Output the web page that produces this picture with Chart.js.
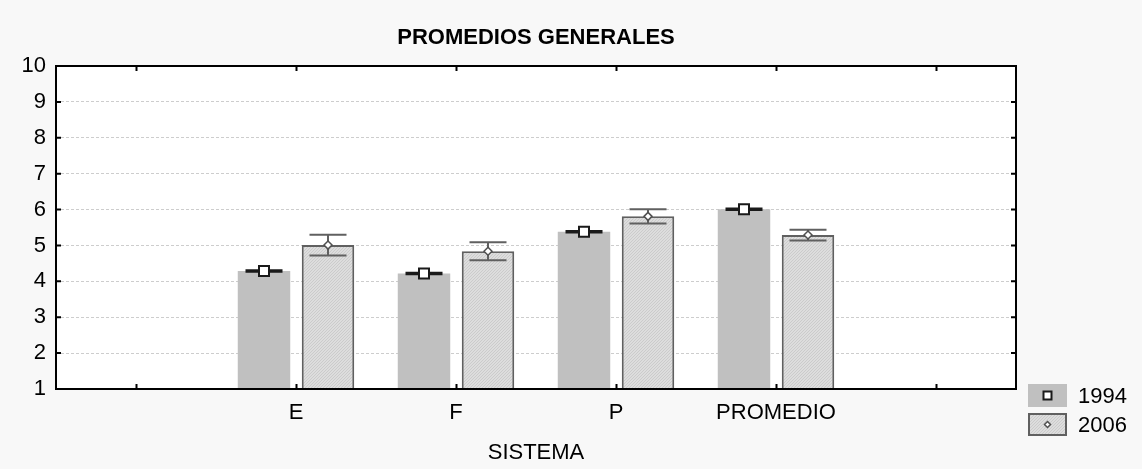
<!DOCTYPE html>
<html>
<head>
<meta charset="utf-8">
<script src="https://cdn.jsdelivr.net/npm/chart.js@4.4.0/dist/chart.umd.min.js"></script>
<style>
  html, body { margin: 0; padding: 0; background: #f8f8f8; }
</style>
</head>
<body>
<canvas id="promedios" width="1142" height="469"></canvas>
<script>
var categories = ["", "E", "F", "P", "PROMEDIO", ""];
var media1994 = [null, 4.29, 4.22, 5.38, 6.01, null];
var error1994 = [null, 0.02, 0.02, 0.02, 0.02, null];
var media2006 = [null, 5.01, 4.84, 5.81, 5.29, null];
var error2006 = [null, 0.29, 0.25, 0.2, 0.15, null];
var yMin = 1;
var yMax = 10;

var FONT = "'Liberation Sans', Arial, sans-serif";
var ctx = document.getElementById("promedios").getContext("2d");

// relleno rayado fino para 2006
function hatch() {
  var c = document.createElement("canvas");
  c.width = 3;
  c.height = 3;
  var g = c.getContext("2d");
  g.fillStyle = "#dddddd";
  g.fillRect(0, 0, 3, 3);
  g.fillStyle = "#cbcbcb";
  g.fillRect(0, 2, 1, 1);
  g.fillRect(1, 1, 1, 1);
  g.fillRect(2, 0, 1, 1);
  return ctx.createPattern(c, "repeat");
}

var estilo = [
  { line: "#1a1a1a", marker: "square", size: 10, stroke: "#1a1a1a" },
  { line: "#606060", marker: "diamond", size: 8, stroke: "#505050" },
];
var errores = [error1994, error2006];

function marker(g, type, x, y, s, stroke) {
  g.save();
  g.fillStyle = "#ffffff";
  g.strokeStyle = stroke;
  g.lineWidth = type == "square" ? 2 : 1.5;
  g.beginPath();
  if (type == "square") {
    g.rect(x - s / 2, y - s / 2, s, s);
  } else {
    g.moveTo(x, y - s / 2);
    g.lineTo(x + s / 2, y);
    g.lineTo(x, y + s / 2);
    g.lineTo(x - s / 2, y);
    g.closePath();
  }
  g.fill();
  g.stroke();
  g.restore();
}

var extras = {
  id: "extras",
  beforeDraw: function (chart) {
    var g = chart.ctx, a = chart.chartArea;
    g.save();
    g.fillStyle = "#f8f8f8";
    g.fillRect(0, 0, chart.width, chart.height);
    g.fillStyle = "#ffffff";
    g.fillRect(a.left, a.top, a.right - a.left, a.bottom - a.top);
    g.restore();
  },
  afterDatasetsDraw: function (chart) {
    var g = chart.ctx, y = chart.scales.y;
    chart.data.datasets.forEach(function (ds, i) {
      var meta = chart.getDatasetMeta(i);
      var st = estilo[i];
      meta.data.forEach(function (bar, j) {
        var v = ds.data[j];
        if (v == null) return;
        var e = errores[i][j];
        var yTop = y.getPixelForValue(v + e);
        var yBot = y.getPixelForValue(v - e);
        var half = 18.5;
        g.save();
        g.strokeStyle = st.line;
        g.lineWidth = 2;
        g.beginPath();
        g.moveTo(bar.x, yTop);
        g.lineTo(bar.x, yBot);
        g.moveTo(bar.x - half, yTop);
        g.lineTo(bar.x + half, yTop);
        g.moveTo(bar.x - half, yBot);
        g.lineTo(bar.x + half, yBot);
        g.stroke();
        g.restore();
        marker(g, st.marker, bar.x, y.getPixelForValue(v), st.size, st.stroke);
      });
    });
  },
  afterDraw: function (chart) {
    var g = chart.ctx, a = chart.chartArea;
    var x = chart.scales.x, y = chart.scales.y;
    g.save();
    g.strokeStyle = "#000000";
    g.lineWidth = 2;
    g.strokeRect(a.left, a.top, a.right - a.left, a.bottom - a.top);
    // marcas hacia dentro
    g.beginPath();
    for (var i = 0; i < categories.length; i++) {
      var px = Math.round(x.getPixelForValue(i)) + 0.5;
      g.moveTo(px, a.bottom);
      g.lineTo(px, a.bottom - 5);
      g.moveTo(px, a.top);
      g.lineTo(px, a.top + 5);
    }
    for (var v = yMin + 1; v < yMax; v++) {
      var py = y.getPixelForValue(v);
      g.moveTo(a.left, py);
      g.lineTo(a.left + 5, py);
      g.moveTo(a.right, py);
      g.lineTo(a.right - 5, py);
    }
    g.stroke();

    // leyenda
    var lx = 1028, ly = 384, bw = 39, bh = 23;
    chart.data.datasets.forEach(function (ds, i) {
      var top = ly + i * 29;
      g.fillStyle = ds.backgroundColor;
      g.fillRect(lx, top, bw, bh);
      if (ds.borderWidth) {
        g.strokeStyle = ds.borderColor;
        g.lineWidth = 2;
        g.strokeRect(lx + 1, top + 1, bw - 2, bh - 2);
      }
      marker(g, estilo[i].marker, lx + bw / 2, top + bh / 2, estilo[i].size - 2, estilo[i].stroke);
      g.fillStyle = "#000000";
      g.font = "22px " + FONT;
      g.textBaseline = "middle";
      g.textAlign = "left";
      g.fillText(ds.label, lx + bw + 11, top + bh / 2 + 1);
    });
    g.restore();
  },
};

var myChart = new Chart(ctx, {
  type: "bar",
  data: {
    labels: categories,
    datasets: [
      {
        label: "1994",
        data: media1994,
        backgroundColor: "#c0c0c0",
        borderWidth: 0,
        barPercentage: 0.82,
        categoryPercentage: 0.8,
      },
      {
        label: "2006",
        data: media2006,
        backgroundColor: hatch(),
        borderColor: "#606060",
        borderWidth: 2,
        borderSkipped: false,
        barPercentage: 0.82,
        categoryPercentage: 0.8,
      },
    ],
  },
  options: {
    responsive: false,
    animation: false,
    devicePixelRatio: 1,
    layout: { padding: { top: 0, right: 126, bottom: 0, left: 0 } },
    scales: {
      x: {
        grid: { display: false, drawTicks: false },
        border: { display: false },
        ticks: {
          color: "#000000",
          padding: 11,
          maxRotation: 0,
          autoSkip: false,
          font: { family: FONT, size: 22 },
        },
        title: {
          display: true,
          text: "SISTEMA",
          color: "#000000",
          padding: { top: 4, bottom: 3 },
          font: { family: FONT, size: 22 },
        },
        afterFit: function (scale) {
          scale.height = 80;
        },
      },
      y: {
        min: yMin,
        max: yMax,
        ticks: {
          stepSize: 1,
          color: "#000000",
          padding: 10,
          font: { family: FONT, size: 22 },
        },
        grid: { color: "#cdcdcd", lineWidth: 1, drawTicks: false },
        border: { display: false, dash: [3, 2] },
        afterFit: function (scale) {
          scale.width = 56;
        },
      },
    },
    plugins: {
      legend: { display: false },
      tooltip: { enabled: false },
      title: {
        display: true,
        text: "PROMEDIOS GENERALES",
        fullSize: false,
        color: "#000000",
        padding: { top: 25, bottom: 14.6 },
        font: { family: FONT, size: 22, weight: "bold" },
      },
    },
  },
  plugins: [extras],
});
</script>
</body>
</html>
